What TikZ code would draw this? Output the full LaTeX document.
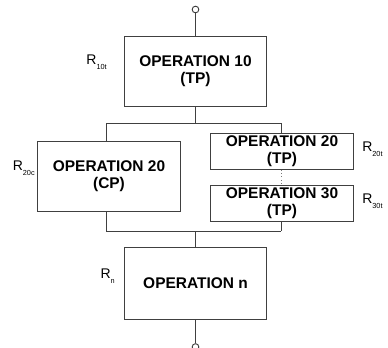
\documentclass[tikz,border=0pt]{standalone}
\usepackage{fontspec}
\setmainfont{Liberation Sans}
\usetikzlibrary{positioning}

\definecolor{linegray}{RGB}{64,64,64}

\tikzset{
  opbox/.style={draw=linegray, fill=white, line width=0.75pt, inner sep=0pt,
    minimum width=107pt, align=center,
    font=\fontsize{11.6}{12.8}\selectfont\bfseries},
  term/.style={circle, draw=linegray, line width=0.7pt, fill=white,
    inner sep=0pt, minimum size=5pt},
  rlabel/.style={inner sep=0pt, font=\fontsize{10.5}{12}\selectfont},
  wire/.style={draw=linegray, line width=0.75pt},
}

\newcommand{\rsub}[1]{R\raisebox{-0.6ex}{\fontsize{5.5}{6}\selectfont #1}}

\begin{document}
\begin{tikzpicture}[x=0.75pt,y=0.75pt,yscale=-1,xscale=1]
\useasboundingbox (0,0) rectangle (388,347);

% terminals
\node [term] (in) at (195.5,9.5) {};
\node [term] (out) at (195.5,347) {};

% operations
\node [opbox, minimum height=53pt] (op10) at (195.5,71.5) {OPERATION 10\\(TP)};
\node [opbox, minimum height=53pt] (op20c) at (109,176.5) {OPERATION 20\\(CP)};
\node [opbox, minimum height=27pt] (op20t) at (282,151) {OPERATION 20\\(TP)};
\node [opbox, minimum height=27pt] (op30t) at (282,203) {OPERATION 30\\(TP)};
\node [opbox, minimum height=54pt] (opn) at (195.5,283) {OPERATION n};

% reliabilities
\node [rlabel, anchor=east] (r10t) at (107,62) {\rsub{10t}};
\node [rlabel, anchor=east] (r20c) at (35,168) {\rsub{20c}};
\node [rlabel, anchor=west] (r20t) at (362,149) {\rsub{20t}};
\node [rlabel, anchor=west] (r30t) at (362,201) {\rsub{30t}};
\node [rlabel, anchor=east] (rn) at (115,276) {\rsub{n}};

% split and join points
\coordinate (splitL) at (106,123);
\coordinate (splitR) at (281,123);
\coordinate (joinL) at (106,231);
\coordinate (joinR) at (281,231);

% wiring
\draw [wire] (in) -- (op10.north);
\draw [wire] (op10.south) -- (op10.south |- splitL);
\draw [wire] (splitL) -- (splitR);
\draw [wire] (splitL) -- (splitL |- op20c.north);
\draw [wire] (splitR) -- (splitR |- op20t.north);
\draw [draw=linegray!70, line width=0.6pt, dotted] (splitR |- op20t.south) -- (splitR |- op30t.north);
\draw [wire] (splitL |- op20c.south) -- (joinL);
\draw [wire] (joinR |- op30t.south) -- (joinR);
\draw [wire] (joinL) -- (joinR);
\draw [wire] (opn.north |- joinL) -- (opn.north);
\draw [wire] (opn.south) -- (out);

\end{tikzpicture}
\end{document}
